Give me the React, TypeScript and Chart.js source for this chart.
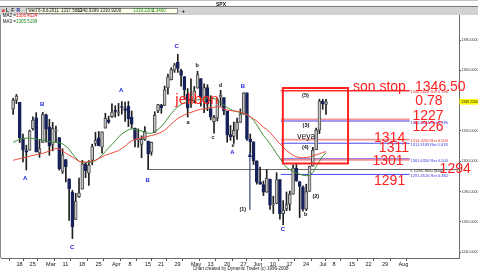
import React, { useEffect, useRef } from "react";
import { Chart, registerables } from "chart.js";
Chart.register(...registerables);

const FONT = '"Liberation Sans", Arial, sans-serif';

// Daily SPX candles, 17-Feb-2011 .. 6-Jul-2011 (index 0 = 17-Feb)
const opens = [
  1334.4, 1340.4, 1338.9, 1315.4, 1307.1, 1307.3, 1321.6, 1328.6, 1305.5, 1312.4,
  1330.7, 1322.7, 1311.1, 1319.9, 1315.7, 1293.4, 1301.2, 1288.5, 1279.5, 1261.6,
  1276.7, 1281.7, 1298.3, 1292.2, 1300.6, 1311.8, 1315.5, 1309.4, 1321.9, 1327.4,
  1329.5, 1333.6, 1332.0, 1335.9, 1334.8, 1336.2, 1329.0, 1322.0, 1314.0, 1311.1,
  1314.5, 1313.4, 1306.0, 1319.1, 1333.2, 1337.1, 1336.8, 1348.4, 1353.9, 1360.1,
  1365.2, 1359.8, 1355.9, 1344.2, 1340.3, 1340.2, 1348.3, 1354.5, 1339.4, 1348.7,
  1334.8, 1326.1, 1328.5, 1342.4, 1342.0, 1333.1, 1317.7, 1316.4, 1320.6, 1325.7,
  1331.1, 1345.2, 1314.6, 1312.9, 1300.3, 1286.3, 1284.6, 1279.6, 1288.3, 1271.3,
  1272.2, 1287.9, 1265.5, 1268.6, 1271.5, 1278.4, 1295.5, 1286.6, 1283.0, 1268.4,
  1280.2, 1296.8, 1307.6, 1320.6, 1339.6, 1337.56,
];
const highs = [
  1341.5, 1344.1, 1338.9, 1317.9, 1310.6, 1320.6, 1329.4, 1332.1, 1314.2, 1332.3,
  1331.1, 1327.7, 1325.7, 1323.2, 1315.7, 1308.3, 1301.2, 1288.5, 1280.9, 1278.9,
  1288.9, 1300.6, 1299.0, 1300.5, 1311.3, 1319.2, 1319.7, 1319.5, 1331.7, 1329.8,
  1337.9, 1336.7, 1338.2, 1339.4, 1339.0, 1339.5, 1333.2, 1322.0, 1321.4, 1316.8,
  1322.9, 1313.4, 1312.7, 1332.7, 1337.5, 1337.6, 1349.6, 1357.5, 1361.7, 1364.6,
  1370.6, 1360.8, 1355.9, 1348.0, 1354.4, 1349.4, 1359.4, 1354.5, 1351.1, 1350.5,
  1343.3, 1330.4, 1341.8, 1346.8, 1342.0, 1333.1, 1323.7, 1325.9, 1328.5, 1334.6,
  1345.2, 1345.2, 1318.0, 1312.9, 1300.3, 1296.2, 1287.0, 1294.5, 1288.3, 1277.0,
  1292.5, 1287.9, 1274.1, 1279.8, 1280.4, 1297.6, 1298.6, 1286.6, 1283.9, 1284.9,
  1296.8, 1309.2, 1322.0, 1341.0, 1340.9, 1340.94,
];
const lows = [
  1331.0, 1338.1, 1312.3, 1299.6, 1294.3, 1307.3, 1320.5, 1306.1, 1302.6, 1312.4,
  1312.6, 1304.0, 1306.9, 1312.3, 1294.2, 1292.0, 1286.4, 1261.1, 1249.1, 1261.6,
  1276.2, 1281.7, 1289.2, 1284.1, 1297.7, 1310.2, 1310.2, 1305.3, 1321.9, 1325.0,
  1328.9, 1329.1, 1330.0, 1331.1, 1326.3, 1322.9, 1321.8, 1309.5, 1309.2, 1302.4,
  1313.7, 1294.7, 1304.0, 1319.1, 1332.0, 1331.7, 1336.8, 1344.3, 1353.6, 1358.7,
  1358.6, 1349.5, 1341.5, 1329.2, 1335.6, 1338.6, 1348.3, 1336.4, 1332.0, 1333.4,
  1327.3, 1318.5, 1326.6, 1336.4, 1330.7, 1312.6, 1313.9, 1311.8, 1314.4, 1325.7,
  1331.1, 1313.7, 1305.6, 1297.9, 1284.9, 1284.7, 1277.4, 1279.6, 1268.3, 1265.6,
  1272.2, 1261.9, 1258.1, 1267.4, 1267.6, 1278.4, 1286.8, 1262.9, 1267.2, 1267.5,
  1280.2, 1296.8, 1307.6, 1318.3, 1334.3, 1330.92,
];
const closes = [
  1340.4, 1343.0, 1315.4, 1307.4, 1306.1, 1319.9, 1327.2, 1306.3, 1308.4, 1331.0,
  1321.2, 1310.1, 1321.8, 1320.0, 1295.1, 1304.3, 1296.4, 1281.9, 1256.9, 1273.7,
  1279.2, 1298.4, 1293.8, 1297.5, 1309.7, 1313.8, 1310.2, 1319.4, 1328.3, 1325.8,
  1332.4, 1332.9, 1332.6, 1335.5, 1333.5, 1328.2, 1324.5, 1314.2, 1314.4, 1314.5,
  1319.7, 1305.1, 1312.6, 1330.4, 1337.4, 1335.3, 1347.2, 1355.7, 1360.5, 1363.6,
  1361.2, 1356.6, 1347.3, 1335.1, 1340.2, 1346.3, 1357.2, 1342.1, 1348.7, 1337.8,
  1329.5, 1329.0, 1340.7, 1343.6, 1333.3, 1317.4, 1316.3, 1320.5, 1325.7, 1331.1,
  1345.2, 1314.6, 1312.9, 1300.2, 1286.2, 1284.9, 1279.6, 1289.0, 1271.0, 1271.8,
  1287.9, 1265.4, 1267.6, 1271.5, 1278.4, 1295.5, 1287.1, 1283.5, 1268.5, 1280.1,
  1296.7, 1307.4, 1320.6, 1339.7, 1337.9, 1339.22,
];
// MA2 (red) and MA3 (green)
const ma2Red = [
  1300.7, 1301.2, 1301.8, 1302.3, 1302.8, 1303.3, 1303.8, 1304.3, 1304.8, 1305.3,
  1306.0, 1306.8, 1307.6, 1308.5, 1308.3, 1306.8, 1305.3, 1304.0, 1302.8, 1301.5,
  1300.0, 1299.5, 1299.5, 1299.7, 1300.0, 1300.8, 1301.8, 1303.0, 1304.0, 1304.8,
  1305.5, 1306.3, 1307.0, 1308.5, 1310.0, 1312.0, 1313.5, 1314.5, 1315.0, 1315.5,
  1316.0, 1316.5, 1317.0, 1317.5, 1318.3, 1319.2, 1320.5, 1322.5, 1324.5, 1326.5,
  1328.3, 1329.5, 1330.6, 1331.6, 1332.3, 1333.0, 1333.8, 1334.3, 1334.7, 1335.0,
  1335.3, 1335.6, 1336.0, 1335.8, 1334.5, 1333.8, 1333.5, 1333.2, 1332.9, 1332.5,
  1331.8, 1330.8, 1329.5, 1328.0, 1326.5, 1324.5, 1322.5, 1321.0, 1319.0, 1316.5,
  1314.0, 1311.5, 1309.5, 1307.0, 1305.5, 1304.0, 1303.0, 1302.5, 1302.3, 1302.5,
  1303.0, 1303.6, 1304.3, 1305.0, 1305.8, 1306.4,
];
const ma3Green = [
  1312.5, 1313.5, 1314.5, 1315.0, 1315.3, 1315.3, 1315.0, 1314.8, 1314.3, 1314.0,
  1313.5, 1313.0, 1312.8, 1312.5, 1312.2, 1311.5, 1310.0, 1308.0, 1305.0, 1302.5,
  1300.0, 1299.3, 1299.2, 1299.2, 1299.5, 1300.5, 1302.0, 1304.0, 1306.5, 1309.0,
  1311.0, 1313.5, 1316.0, 1318.0, 1319.5, 1320.8, 1321.5, 1321.0, 1320.5, 1320.0,
  1319.0, 1318.5, 1318.5, 1319.5, 1321.0, 1323.0, 1325.5, 1328.5, 1331.5, 1334.0,
  1336.0, 1337.5, 1338.5, 1339.3, 1339.8, 1340.2, 1340.5, 1341.0, 1341.3, 1341.5,
  1341.5, 1341.5, 1340.5, 1338.5, 1337.0, 1335.5, 1334.2, 1333.3, 1332.8, 1332.0,
  1331.5, 1330.8, 1329.5, 1327.0, 1324.0, 1320.5, 1317.0, 1314.5, 1311.5, 1308.5,
  1305.0, 1302.0, 1298.5, 1296.0, 1294.5, 1293.3, 1292.3, 1291.5, 1290.8, 1290.5,
  1291.0, 1292.5, 1296.5, 1300.0, 1303.5, 1305.5,
];

// Friday ticks (trading-day index) and their labels
const xTickIndex = [1, 5, 10, 15, 20, 25, 30, 35, 40, 44, 49, 54, 59, 64, 69, 73, 78, 83, 88, 93, 97, 102, 107, 112, 117];
const xTickLabels = ["18", "25", "Mar", "11", "18", "25", "Apr", "8", "15", "21", "29", "May", "13", "20", "27", "Jun", "10", "17", "24", "Jul", "8", "15", "22", "29", "Aug"];
const yTickValues = [1240, 1260, 1280, 1300, 1320, 1360, 1380];

// Retracement levels
const levelValues = [1346.5828, 1327.6025, 1326.5644, 1314.325, 1311.9183, 1301.635, 1301.0475, 1291.3516];
const levelKinds = ["stop", "red", "blue", "red", "blue", "blue", "red", "blue"];
const levelTexts = ["1346.5828 Ret 0.786", "", "1326.5644 Ret 0.786", "1314.3250 Ret 0.500", "1311.9183 Ret 0.618", "1301.6350 Ret 0.500", "", "1291.3516 Ret 0.382"];
const supportValue = 1294.76;
const supportText = "L 1294.7600 (84a)";

// Wave labels
const waveTexts = ["A", "B", "C", "A", "B", "C", "a", "b", "c", "d", "e", "A", "B", "C", "(1)", "(2)", "(3)", "(4)", "(5)", "b"];
const waveIdx = [3.67, 8.8, 17.96, 32.77, 40.87, 49.62, 53.09, 55.89, 60.67, 62.94, 66.8, 66.57, 69.74, 81.9, 69.74, 91.9, 88.9, 88.7, 88.75, 88.8];
const wavePrice = [1288.8, 1337.3, 1243.3, 1346.7, 1287.7, 1375.6, 1325.8, 1363.1, 1315.8, 1350.3, 1310.3, 1305.6, 1349.2, 1255.4, 1268.2, 1276.7, 1323.7, 1309.0, 1343.1, 1265.1];

// Big red notes
const noteTexts = ["son stop", "1346.50", "0.78", "1227", "1226", "1314", "1311", "1301", "1294", "1291"];
const noteIdx = [103.18, 122.04, 122.13, 121.25, 121.25, 109.59, 111.05, 109.1, 129.5, 109.59];
const notePrice = [1346.37, 1346.7, 1337.14, 1327.24, 1320.19, 1312.93, 1306.34, 1297.57, 1292.1, 1284.38];

const X_MIN = -0.904;
const X_MAX = 132.604;
const Y_MIN = 1236.24;
const Y_MAX = 1396.49;

const UP_FILL = "#c4c4c4";
const UP_LINE = "#4a4a4a";
const DOWN = "#18225a";

function txt(ctx: CanvasRenderingContext2D, s: string, x: number, y: number, font: string, color: string, align: CanvasTextAlign = "left", base: CanvasTextBaseline = "middle") {
  ctx.font = font;
  ctx.fillStyle = color;
  ctx.textAlign = align;
  ctx.textBaseline = base;
  ctx.fillText(s, x, y);
}

const overlay = {
  id: "overlay",
  beforeDraw(chart: any) {
    const ctx = chart.ctx as CanvasRenderingContext2D;
    ctx.save();
    ctx.fillStyle = "#ffffff";
    ctx.fillRect(0, 0, chart.width, chart.height);
    ctx.restore();
  },
  beforeDatasetsDraw(chart: any) {
    const ctx = chart.ctx as CanvasRenderingContext2D;
    const xs = chart.scales.x;
    const ys = chart.scales.y;
    const area = chart.chartArea;
    ctx.save();
    // support line from the B low
    const sy = Math.round(ys.getPixelForValue(supportValue)) + 0.5;
    ctx.strokeStyle = "#6a6a6a";
    ctx.lineWidth = 1;
    ctx.beginPath();
    ctx.moveTo(xs.getPixelForValue(40.87), sy);
    ctx.lineTo(area.right, sy);
    ctx.stroke();
    const x0 = xs.getPixelForValue(81.3);
    const x1 = xs.getPixelForValue(120.4);
    levelValues.forEach((v, i) => {
      const k = levelKinds[i];
      const y = ys.getPixelForValue(v);
      ctx.beginPath();
      if (k === "stop") {
        ctx.strokeStyle = "#ff2a2a";
        ctx.lineWidth = 1.6;
      } else if (k === "red") {
        ctx.strokeStyle = "rgba(240,130,130,0.85)";
        ctx.lineWidth = 1.8;
      } else {
        ctx.strokeStyle = "#4848ee";
        ctx.lineWidth = 1;
      }
      ctx.moveTo(x0, y);
      ctx.lineTo(x1, y);
      ctx.stroke();
    });
    ctx.restore();
  },
  afterDatasetsDraw(chart: any) {
    const ctx = chart.ctx as CanvasRenderingContext2D;
    const xs = chart.scales.x;
    const ys = chart.scales.y;
    const px = (i: number) => xs.getPixelForValue(i);
    const py = (p: number) => ys.getPixelForValue(p);
    ctx.save();
    // red box
    ctx.strokeStyle = "#ff2020";
    ctx.lineWidth = 2;
    const rx0 = px(81.9), rx1 = px(101.7), ry0 = py(1348.35), ry1 = py(1298.56);
    ctx.strokeRect(rx0, ry0, rx1 - rx0, ry1 - ry0);
    // arrow
    const ax = px(71.9);
    const ayTop = py(1306.1), ayBot = py(1267.9);
    ctx.strokeStyle = DOWN;
    ctx.lineWidth = 1;
    ctx.beginPath();
    ctx.moveTo(ax, ayBot);
    ctx.lineTo(ax, ayTop + 3);
    ctx.stroke();
    ctx.fillStyle = DOWN;
    ctx.beginPath();
    ctx.moveTo(ax, ayTop);
    ctx.lineTo(ax - 2, ayTop + 5);
    ctx.lineTo(ax + 2, ayTop + 5);
    ctx.closePath();
    ctx.fill();
    // level labels
    const lx = px(120.67);
    levelValues.forEach((v, i) => {
      if (!levelTexts[i]) return;
      const k = levelKinds[i];
      txt(ctx, levelTexts[i], lx, py(v) + 1.6, `4px ${FONT}`, k === "blue" ? "#3434e0" : "#e82828");
    });
    txt(ctx, supportText, lx, py(supportValue) + 1.4, `4px ${FONT}`, "#222222");
    // wave labels
    waveTexts.forEach((t, i) => {
      const isBlue = t === "A" || t === "B" || t === "C";
      const isParen = t.startsWith("(");
      const font = isParen ? `bold 5.5px ${FONT}` : isBlue ? `bold 6px ${FONT}` : `bold 5.5px ${FONT}`;
      txt(ctx, t, px(waveIdx[i]), py(wavePrice[i]), font, isBlue ? "#2024d8" : "#111111", "center");
    });
    // comments
    txt(ctx, "jelibon", px(49.24), py(1337.6), `15px ${FONT}`, "#ff2020", "left", "alphabetic");
    txt(ctx, "veya", px(86.27), py(1316.36), `8.5px ${FONT}`, "#111111", "left");
    noteTexts.forEach((t, i) => {
      txt(ctx, t, px(noteIdx[i]), py(notePrice[i]), `14px ${FONT}`, "#ff2020", "left", "alphabetic");
    });
    ctx.restore();
  },
  afterDraw(chart: any) {
    const ctx = chart.ctx as CanvasRenderingContext2D;
    const ys = chart.scales.y;
    const W = chart.width;
    ctx.save();
    // header
    ctx.fillStyle = "#ffffff";
    ctx.fillRect(0, 0, W, 7);
    ctx.strokeStyle = "#c4c4c4";
    ctx.lineWidth = 1;
    ctx.beginPath();
    ctx.moveTo(0, 0.5);
    ctx.lineTo(W, 0.5);
    ctx.stroke();
    txt(ctx, "SPX", 221, 4.2, `bold 5px ${FONT}`, "#111111", "center");
    ctx.strokeStyle = "#7a7a7a";
    ctx.beginPath();
    ctx.moveTo(0, 6.5);
    ctx.lineTo(W, 6.5);
    ctx.stroke();
    ctx.fillStyle = "#d2d2d2";
    ctx.fillRect(0, 7, W, 8);
    ctx.fillStyle = "#e02020";
    ctx.beginPath();
    ctx.arc(3.3, 10.8, 1.3, 0, Math.PI * 2);
    ctx.fill();
    txt(ctx, "L", 7.2, 10.9, `bold 5px ${FONT}`, "#222222", "center");
    txt(ctx, "F", 12.8, 10.9, `bold 5px ${FONT}`, "#333333", "center");
    txt(ctx, "R", 18.3, 10.9, `bold 5px ${FONT}`, "#1a2a9a", "center");
    ctx.fillStyle = "#ffffe6";
    ctx.fillRect(26.5, 8.5, 151, 5);
    ctx.strokeStyle = "#8a8a8a";
    ctx.strokeRect(26.5, 8.5, 151, 5);
    const hf = `4.5px ${FONT}`;
    txt(ctx, "wed 6-Jul-2011", 28.5, 11.1, hf, "#111111");
    txt(ctx, "1337.5601", 61, 11.1, hf, "#111111");
    txt(ctx, "1340.9399", 77.5, 11.1, hf, "#111111");
    txt(ctx, "1330.9200", 100, 11.1, hf, "#111111");
    txt(ctx, "1339.2200", 133, 11.1, hf, "#1a8a1a");
    txt(ctx, "1.3400", 152, 11.1, hf, "#1a8a1a");
    txt(ctx, "+", 183.3, 10.9, `bold 6px ${FONT}`, "#111111", "center");
    // MA legend
    txt(ctx, "MA2 =", 2.7, 16, hf, "#111111");
    txt(ctx, "1306.4124", 16, 16, hf, "#e82020");
    txt(ctx, "MA3 =", 2.7, 22, hf, "#111111");
    txt(ctx, "1305.5199", 16, 22, hf, "#1a8a1a");
    // left border
    ctx.strokeStyle = "#8a8a8a";
    ctx.beginPath();
    ctx.moveTo(0.5, 15);
    ctx.lineTo(0.5, chart.chartArea.bottom);
    ctx.stroke();
    // last price tag
    const ty = ys.getPixelForValue(closes[closes.length - 1]);
    ctx.fillStyle = "#ffff00";
    ctx.fillRect(459.5, ty - 2.8, 18.5, 5.6);
    txt(ctx, closes[closes.length - 1].toFixed(4), 461, ty, `3.6px ${FONT}`, "#111111");
    // footer
    txt(ctx, "Chart created by Dynamic Trader (c) 1996-2008", 193, 268.7, `4.5px ${FONT}`, "#222222");
    ctx.restore();
  },
};

export default function App() {
  const ref = useRef<HTMLCanvasElement | null>(null);
  useEffect(() => {
    if (!ref.current) return;
    const n = closes.length;
    const idx = Array.from({ length: n }, (_, i) => i);
    const wicks = idx.map((i) => ({ x: i, y: [lows[i], highs[i]] }));
    const bodies = idx.map((i) => ({ x: i, y: [Math.min(opens[i], closes[i]), Math.max(opens[i], closes[i])] }));
    const isUp = idx.map((i) => closes[i] >= opens[i]);
    const chart = new Chart(ref.current, {
      type: "bar",
      data: {
        datasets: [
          {
            type: "bar",
            data: wicks as any,
            backgroundColor: "#1e1e1e",
            barThickness: 1,
            grouped: false,
            order: 3,
          } as any,
          {
            type: "bar",
            data: bodies as any,
            backgroundColor: isUp.map((u) => (u ? UP_FILL : DOWN)),
            borderColor: isUp.map((u) => (u ? UP_LINE : DOWN)),
            borderWidth: 1,
            borderSkipped: false,
            barThickness: 3,
            minBarLength: 1,
            grouped: false,
            order: 2,
          } as any,
          {
            type: "line",
            data: idx.map((i) => ({ x: i, y: ma2Red[i] })),
            borderColor: "#f04a3c",
            borderWidth: 1,
            pointRadius: 0,
            tension: 0,
            order: 1,
          } as any,
          {
            type: "line",
            data: idx.map((i) => ({ x: i, y: ma3Green[i] })),
            borderColor: "#3f8f3a",
            borderWidth: 1,
            pointRadius: 0,
            tension: 0,
            order: 1,
          } as any,
        ],
      },
      options: {
        animation: false,
        responsive: false,
        devicePixelRatio: 1,
        events: [],
        layout: { padding: { left: 1, top: 15, right: 0, bottom: 0 } },
        plugins: { legend: { display: false }, tooltip: { enabled: false } },
        scales: {
          x: {
            type: "linear",
            position: "bottom",
            min: X_MIN,
            max: X_MAX,
            afterBuildTicks: (s: any) => {
              s.ticks = xTickIndex.map((v) => ({ value: v }));
            },
            afterFit: (s: any) => {
              s.height = 14;
            },
            ticks: {
              autoSkip: false,
              maxRotation: 0,
              minRotation: 0,
              align: "start",
              padding: 0,
              color: "#111111",
              font: { size: 5.5, family: FONT },
              callback: (_v: any, i: number) => xTickLabels[i],
            },
            grid: { drawOnChartArea: false, drawTicks: true, tickLength: 3, color: "#555555" },
            border: { display: true, color: "#6a6a6a", width: 1 },
          },
          y: {
            type: "linear",
            position: "right",
            min: Y_MIN,
            max: Y_MAX,
            afterBuildTicks: (s: any) => {
              s.ticks = yTickValues.map((v) => ({ value: v }));
            },
            afterFit: (s: any) => {
              s.width = 19;
            },
            ticks: {
              padding: 0.5,
              color: "#333333",
              font: { size: 3.6, family: FONT },
              callback: (v: any) => Number(v).toFixed(4),
            },
            grid: { drawOnChartArea: false, drawTicks: true, tickLength: 2, color: "#555555" },
            border: { display: true, color: "#6a6a6a", width: 1 },
          },
        },
      } as any,
      plugins: [overlay as any],
    });
    return () => chart.destroy();
  }, []);
  return (
    <div style={{ position: "fixed", left: 0, top: 0, width: 478, height: 272, background: "#fff" }}>
      <canvas ref={ref} width={478} height={272} style={{ width: 478, height: 272, display: "block" }} />
    </div>
  );
}
